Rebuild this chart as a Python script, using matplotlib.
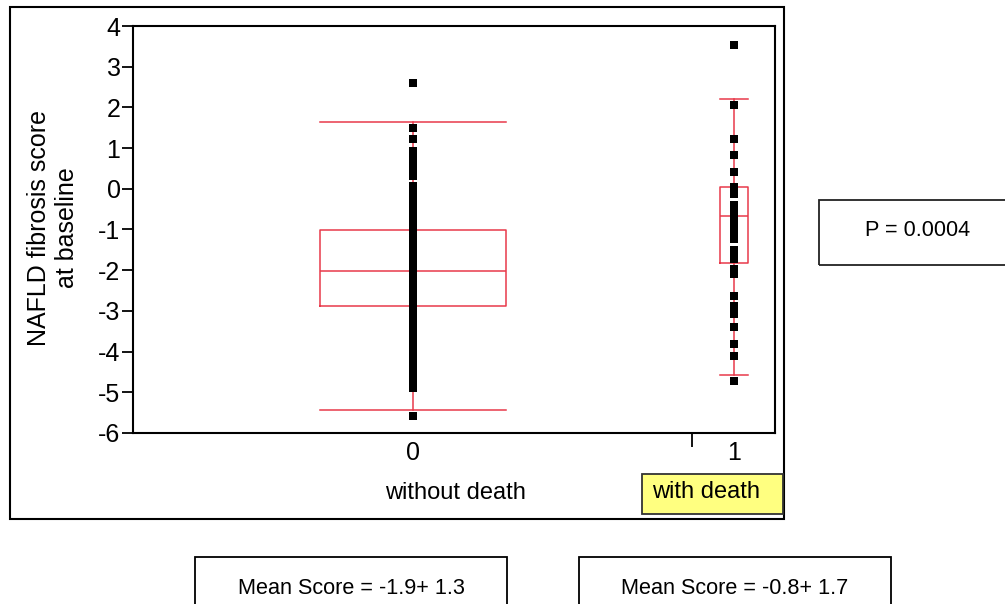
import matplotlib
matplotlib.use('Agg')
import matplotlib.pyplot as plt
from matplotlib.patches import Rectangle

plt.rcParams['font.family'] = ['Liberation Sans', 'DejaVu Sans']
plt.rcParams['axes.unicode_minus'] = False

# groups (0 = without death, 1 = with death)
groups = [0, 1]
group_names = ['without death', 'with death']

# individual scores
scores0 = [2.6, 1.49, 1.22,
           0.93, 0.81, 0.70, 0.58, 0.45, 0.32,
           0.07, -0.08, -0.22, -0.37, -0.52, -0.66, -0.81, -0.95, -1.1, -1.25,
           -1.4, -1.54, -1.69, -1.84, -1.98, -2.13, -2.28, -2.42, -2.57, -2.72,
           -2.86, -3.01, -3.16, -3.3, -3.45, -3.6, -3.74, -3.89, -4.04, -4.18,
           -4.33, -4.48, -4.62, -4.77, -4.89, -5.58]
scores1 = [3.53, 2.06, 1.22, 0.83, 0.41, 0.05, -0.05, -0.13,
           -0.40, -0.55, -0.70, -0.85, -1.0, -1.12, -1.23,
           -1.51, -1.62, -1.72, -1.97, -2.09, -2.64,
           -2.87, -2.97, -3.07, -3.39, -3.82, -4.11, -4.72]

# box summaries
medians = [-2.02, -0.67]
q1s = [-2.88, -1.83]
q3s = [-1.01, 0.05]
whislo = [-5.43, -4.57]
whishi = [1.64, 2.2]
box_w = [0.58, 0.087]

p_text = 'P = 0.0004'
mean_texts = ['Mean Score = -1.9+ 1.3', 'Mean Score = -0.8+ 1.7']

red = '#e8394a'

fig = plt.figure(figsize=(10.05, 6.04), dpi=100)
ax = fig.add_axes([133/1005, 1-433/604, 642/1005, 407/604])

stats = []
for i in range(2):
    stats.append(dict(med=medians[i], q1=q1s[i], q3=q3s[i],
                      whislo=whislo[i], whishi=whishi[i], fliers=[]))
ax.bxp(stats, positions=groups, widths=box_w, showfliers=False,
       boxprops=dict(color=red, lw=1.1), medianprops=dict(color=red, lw=1.1),
       whiskerprops=dict(color=red, lw=1.1), capprops=dict(color=red, lw=1.1),
       capwidths=box_w, manage_ticks=False)

ax.scatter([0]*len(scores0), scores0, marker='s', s=36, color='black', lw=0, zorder=3)
ax.scatter([1]*len(scores1), scores1, marker='s', s=36, color='black', lw=0, zorder=3)

ax.set_xlim(-0.872, 1.128)
ax.set_ylim(-6, 4)
ax.set_yticks(range(-6, 5))
ax.set_xticks(groups)
ax.set_xticklabels(['0', '1'])
ax.set_xticks([0.869], minor=True)
ax.tick_params(axis='y', labelsize=18, length=8, width=1.3, pad=1)
ax.tick_params(axis='x', which='major', labelsize=18, length=0, pad=6)
ax.tick_params(axis='x', which='minor', length=10, width=1.3)
for s in ax.spines.values():
    s.set_linewidth(1.5)

fig.text(53/1005, 1-228/604, 'NAFLD fibrosis score\nat baseline', rotation=90,
         ha='center', va='center', fontsize=18, linespacing=1.25)
fig.text(455/1005, 1-493/604, group_names[0], ha='center', va='center', fontsize=17)

# outer frame
fig.patches.append(Rectangle((10/1005, 1-519/604), 774/1005, 512/604,
                             transform=fig.transFigure, fill=False, ec='black', lw=1.5))
# yellow label
fig.patches.append(Rectangle((642/1005, 1-514/604), 141/1005, 40/604,
                             transform=fig.transFigure, fc='#ffff80', ec='#333333', lw=1.3))
fig.text(652/1005, 1-492/604, group_names[1], ha='left', va='center', fontsize=17)

# P value box
fig.patches.append(Rectangle((819/1005, 1-265/604), 190/1005, 65/604,
                             transform=fig.transFigure, fill=False, ec='#222222', lw=1.3))
fig.text(918/1005, 1-231/604, p_text, ha='center', va='center', fontsize=15.6)

# mean score boxes
for x0, txt in zip([195, 579], mean_texts):
    fig.patches.append(Rectangle((x0/1005, -0.05), 312/1005, 1-557/604+0.05,
                                 transform=fig.transFigure, fill=False, ec='black', lw=1.3))
    fig.text((x0+156)/1005, 1-588/604, txt, ha='center', va='center', fontsize=15.6)

fig.savefig('out.png', dpi=100)
